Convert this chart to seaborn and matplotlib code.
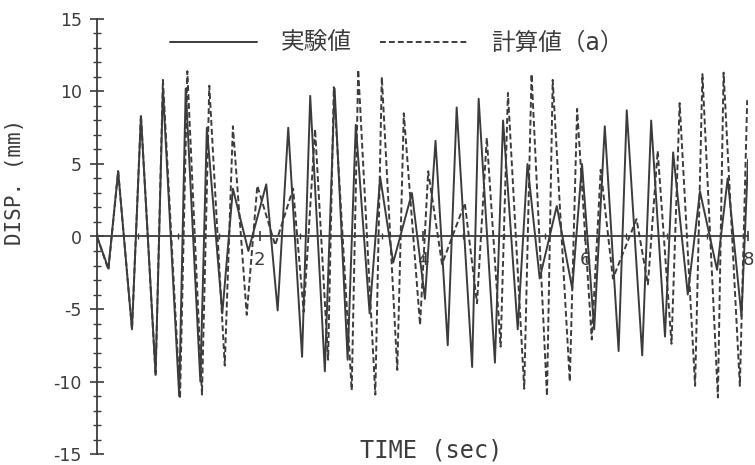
import numpy as np
import pandas as pd
import matplotlib
matplotlib.use("Agg")
import matplotlib.pyplot as plt
import seaborn as sns
from matplotlib.ticker import MultipleLocator

# ---- data (extrema of each record) ----
exp_time = [0.00, 0.14, 0.26, 0.43, 0.54, 0.72, 0.81, 1.01, 1.09, 1.27, 1.35, 1.54,
            1.67, 1.86, 2.08, 2.22, 2.35, 2.52, 2.62, 2.80, 2.92, 3.08, 3.18, 3.35,
            3.48, 3.64, 3.87, 4.03, 4.16, 4.31, 4.42, 4.61, 4.69, 4.89, 4.99, 5.17,
            5.29, 5.44, 5.65, 5.84, 5.96, 6.11, 6.24, 6.41, 6.51, 6.70, 6.81, 6.98,
            7.08, 7.26, 7.41, 7.62, 7.75, 7.92, 8.00]
exp_disp = [0.0, -2.2, 4.5, -6.4, 8.3, -9.5, 10.2, -11.0, 10.2, -10.0, 7.5, -5.3,
            3.3, -1.0, 3.6, -5.1, 7.5, -8.3, 9.7, -9.3, 10.2, -8.5, 7.7, -5.3,
            4.1, -1.8, 3.0, -4.3, 6.6, -7.5, 8.9, -9.0, 9.5, -8.7, 8.0, -6.4,
            5.0, -2.9, 2.1, -3.6, 5.0, -6.4, 7.6, -7.9, 8.7, -8.2, 8.0, -6.9,
            5.8, -4.0, 3.1, -2.3, 4.0, -5.5, 5.3]

calc_time = [0.00, 0.14, 0.26, 0.43, 0.54, 0.72, 0.81, 1.02, 1.11, 1.29, 1.38, 1.57,
             1.67, 1.84, 1.97, 2.19, 2.41, 2.54, 2.68, 2.84, 2.91, 3.13, 3.21, 3.42,
             3.50, 3.69, 3.77, 3.97, 4.07, 4.24, 4.52, 4.67, 4.79, 4.96, 5.05, 5.25,
             5.34, 5.53, 5.60, 5.81, 5.90, 6.08, 6.19, 6.34, 6.63, 6.77, 6.89, 7.06,
             7.16, 7.35, 7.44, 7.63, 7.70, 7.90, 7.99]
calc_disp = [0.0, -2.3, 4.5, -6.4, 8.4, -9.6, 10.8, -11.2, 11.4, -10.9, 10.4, -8.9,
             7.6, -5.4, 3.5, -0.6, 3.3, -5.2, 7.4, -8.5, 10.3, -10.6, 11.5, -10.9,
             11.0, -9.2, 8.5, -6.1, 4.5, -1.9, 2.3, -4.6, 6.8, -7.6, 9.9, -10.5,
             11.2, -11.0, 10.8, -10.0, 8.8, -7.1, 4.6, -2.9, 1.2, -3.3, 5.9, -7.4,
             9.2, -10.3, 11.2, -11.1, 11.3, -10.3, 9.4]

series_names = ["実験値", "計算値（a）"]
y_ticks = [-15, -10, -5, 0, 5, 10, 15]
x_ticks = [2, 4, 6, 8]

# ---- style ----
sns.set_theme(style="ticks")
plt.rcParams['font.family'] = ['DejaVu Sans', 'Noto Sans CJK JP']
ink = "#3c3c3c"

df = pd.concat([
    pd.DataFrame({"time": exp_time, "disp": exp_disp, "series": series_names[0]}),
    pd.DataFrame({"time": calc_time, "disp": calc_disp, "series": series_names[1]}),
], ignore_index=True)

fig = plt.figure(figsize=(7.55, 4.65), dpi=100)
ax = fig.add_axes([97 / 755, 11 / 465, 651 / 755, 435 / 465])

sns.lineplot(data=df, x="time", y="disp", hue="series", style="series",
             palette={series_names[0]: ink, series_names[1]: ink},
             dashes={series_names[0]: "", series_names[1]: (3, 1.6)},
             linewidth=1.4, estimator=None, sort=False, ax=ax)

ax.set_xlim(0, 8)
ax.set_ylim(-15, 15)

# axes look
for s in ["top", "right"]:
    ax.spines[s].set_visible(False)
ax.spines["bottom"].set_position(("data", 0))
for s in ["left", "bottom"]:
    ax.spines[s].set_color(ink)
    ax.spines[s].set_linewidth(1.3)

ax.set_yticks(y_ticks)
ax.set_yticklabels([str(v) for v in y_ticks])
ax.yaxis.set_minor_locator(MultipleLocator(1))
ax.set_xticks(x_ticks)
ax.set_xticklabels([str(v) for v in x_ticks])
ax.xaxis.set_minor_locator(MultipleLocator(0.5))

ax.tick_params(axis="y", which="major", direction="inout", length=10, width=1.2,
               color=ink, labelcolor=ink, labelsize=12.5, pad=6)
ax.tick_params(axis="y", which="minor", direction="inout", length=6, width=1.0, color=ink)
ax.tick_params(axis="x", which="major", direction="inout", length=7, width=1.2,
               color=ink, labelcolor=ink, labelsize=13, pad=7)
ax.tick_params(axis="x", which="minor", direction="inout", length=4, width=1.0, color=ink)

ax.set_xlabel("TIME (sec)", fontsize=17, family="DejaVu Sans Mono", color=ink)
ax.set_ylabel("DISP. (mm)", fontsize=15, family="DejaVu Sans Mono", color=ink)
ax.xaxis.set_label_coords(0.513, 0.035)
ax.yaxis.set_label_coords(-0.11, 0.625)

handles, labels = ax.get_legend_handles_labels()
ax.legend(handles, labels, ncol=2, frameon=False, loc="center left",
          bbox_to_anchor=(170 / 755, 1 - 43 / 465), bbox_transform=fig.transFigure,
          handlelength=3.7, handletextpad=1.0, columnspacing=1.2,
          borderpad=0, borderaxespad=0, prop={"size": 17}, labelcolor=ink)

fig.savefig("out.png", dpi=100, facecolor="white")
